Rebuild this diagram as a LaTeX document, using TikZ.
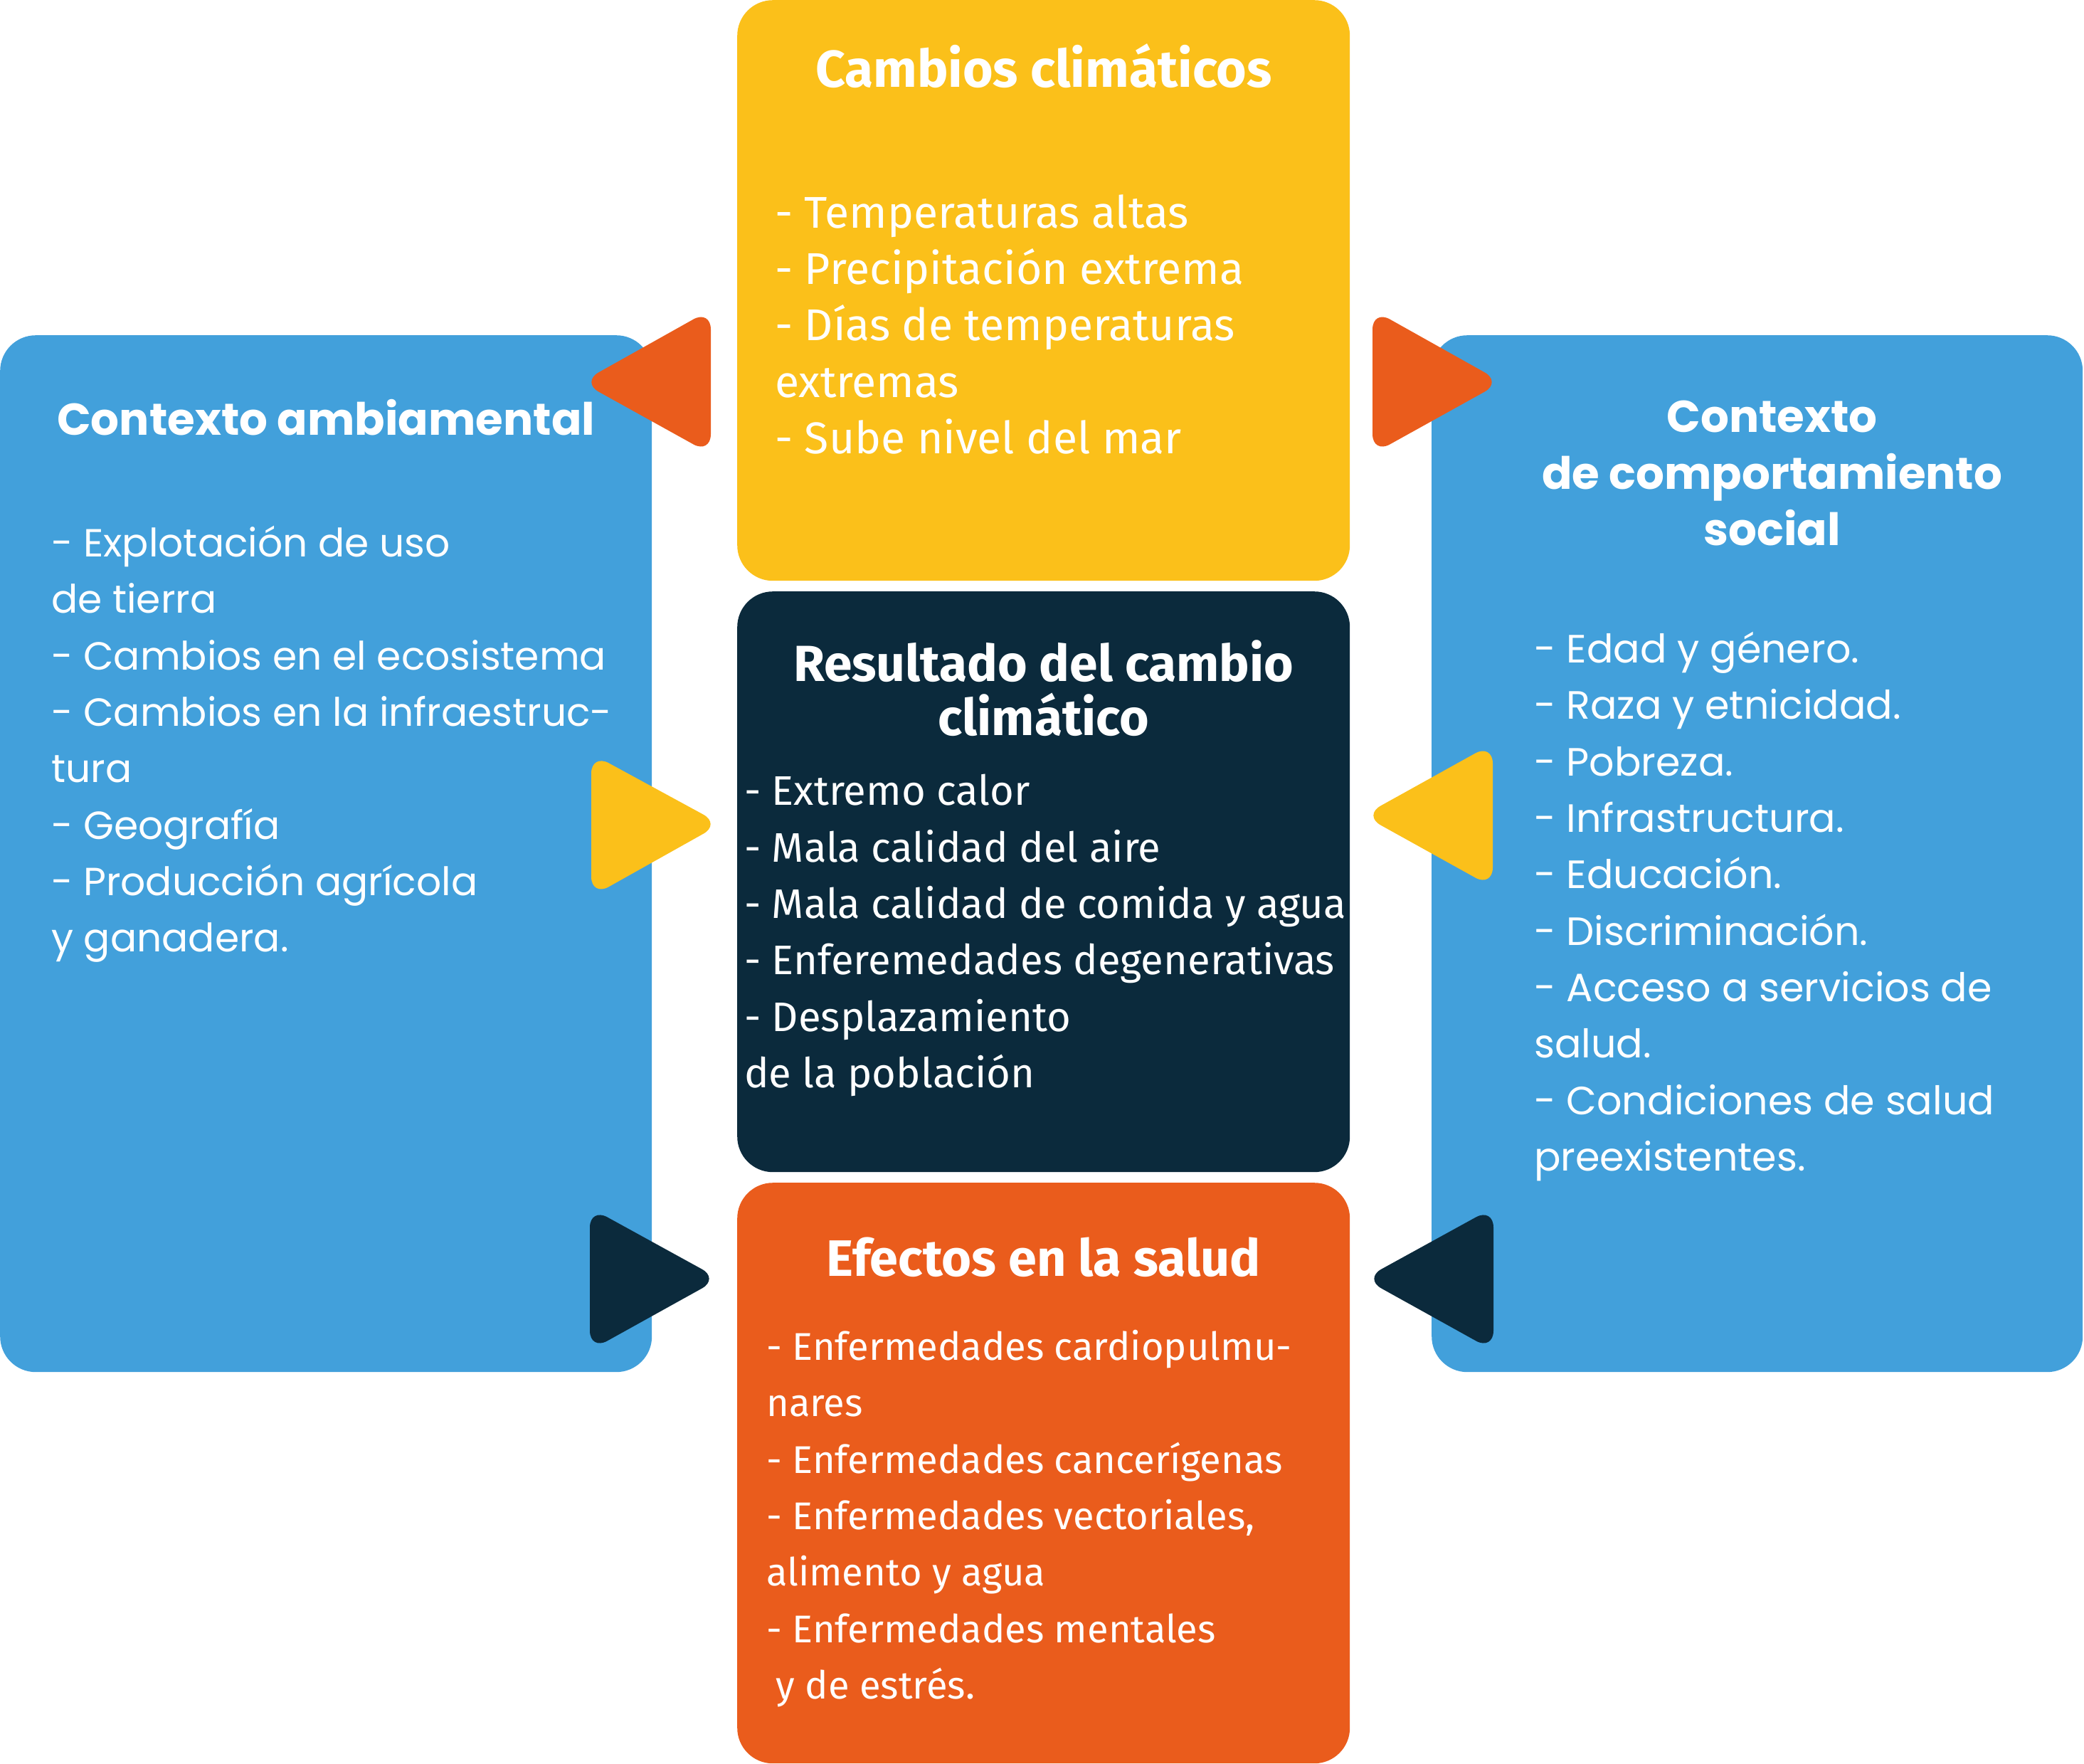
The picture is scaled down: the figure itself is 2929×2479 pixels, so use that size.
\documentclass[tikz,border=0pt]{standalone}
\usepackage{fontspec}
\setmainfont{Fira Sans}
\newfontfamily\geofont{Poppins}
\usepackage{tikz}
\usetikzlibrary{positioning}

\definecolor{cielo}{RGB}{66,160,219}
\definecolor{sol}{RGB}{251,192,26}
\definecolor{noche}{RGB}{11,42,60}
\definecolor{fuego}{RGB}{234,92,28}

\begin{document}
\begin{tikzpicture}[
  x=1pt, y=-1pt,
  title/.style={font=\fontsize{72}{76}\selectfont\bfseries, text=white, align=center, inner sep=0pt},
  geotitle/.style={font=\geofont\fontsize{62.7}{79.5}\selectfont\bfseries, text=white, align=center, inner sep=0pt},
  itemlist/.style={font=\fontsize{58}{79.4}\selectfont, text=white, align=left, inner sep=0pt, execute at begin node=\strut},
  geolist/.style={font=\geofont\fontsize{55.5}{79.3}\selectfont, text=white, align=left, inner sep=0pt, execute at begin node=\strut}
]
	\tikzstyle{panel} = [rectangle, rounded corners=50pt, inner sep=0pt, anchor=north west]
	\tikzstyle{pointer} = [rounded corners=28pt]

	\useasboundingbox (0,0) rectangle (2929,2479);

	% side panels
	\node (ambiental) [panel, fill=cielo, minimum width=916pt, minimum height=1457pt] at (0,471) {};
	\node (social) [panel, fill=cielo, minimum width=915pt, minimum height=1457pt] at (2012,471) {};

	% middle column
	\node (cambios) [panel, fill=sol, minimum width=861pt, minimum height=816pt] at (1036,0) {};
	\node (resultado) [panel, fill=noche, minimum width=861pt, minimum height=816pt] at (1036,831) {};
	\node (efectos) [panel, fill=fuego, minimum width=861pt, minimum height=816pt] at (1036,1662) {};

	% titles
	\node (cambiosTitle) [title, font=\fontsize{73}{76}\selectfont\bfseries, below=122pt of cambios.north, anchor=base] {Cambios climáticos};
	\node (resultadoTitle) [title, font=\fontsize{71.3}{76}\selectfont\bfseries, below=68pt of resultado.north, execute at begin node=\strut] {Resultado del cambio\\climático};
	\node (efectosTitle) [title, below=131pt of efectos.north, anchor=base] {Efectos en la salud};
	\node (ambientalTitle) [geotitle, below=140pt of ambiental.north, anchor=base] {Contexto ambiamental};
	\node (socialTitle) [geotitle, below=92pt of social.north, xshift=21pt, execute at begin node=\strut] {Contexto\\de comportamiento\\social};

	% lists
	\node (cambiosList) [itemlist, font=\fontsize{62.5}{79.4}\selectfont, below right=273pt and 53pt of cambios.north west] {- Temperaturas altas\\- Precipitación extrema\\- Días de temperaturas\\extremas\\- Sube nivel del mar};
	\node (resultadoList) [itemlist, below right=257pt and 10pt of resultado.north west] {- Extremo calor\\- Mala calidad del aire\\- Mala calidad de comida y agua\\- Enferemedades degenerativas\\- Desplazamiento\\de la población};
	\node (efectosList) [itemlist, font=\fontsize{54.3}{79.3}\selectfont, below right=207pt and 41pt of efectos.north west] {- Enfermedades cardiopulmu-\\nares\\- Enfermedades cancerígenas\\- Enfermedades vectoriales,\\alimento y agua\\- Enfermedades mentales\\\hspace*{0.25em}y de estrés.};
	\node (ambientalList) [geolist, font=\geofont\fontsize{55.1}{79.3}\selectfont, below right=268pt and 72pt of ambiental.north west] {- Explotación de uso\\de tierra\\- Cambios en el ecosistema\\- Cambios en la infraestruc-\\tura\\- Geografía\\- Producción agrícola\\y ganadera.};
	\node (socialList) [geolist, below right=417pt and 144pt of social.north west] {- Edad y género.\\- Raza y etnicidad.\\- Pobreza.\\- Infrastructura.\\- Educación.\\- Discriminación.\\- Acceso a servicios de\\salud.\\- Condiciones de salud\\preexistentes.};

	% pointers
	\fill[pointer, fuego] (999,435) -- (817,537) -- (999,638) -- cycle;
	\fill[pointer, fuego] (1929,435) -- (2111,537) -- (1929,638) -- cycle;
	\fill[pointer, sol] (831,1059) -- (1013,1158) -- (831,1260) -- cycle;
	\fill[pointer, sol] (2098,1045) -- (1916,1146) -- (2098,1247) -- cycle;
	\fill[pointer, noche] (829,1697) -- (1011,1797) -- (829,1898) -- cycle;
	\fill[pointer, noche] (2099,1697) -- (1917,1797) -- (2099,1898) -- cycle;

\end{tikzpicture}
\end{document}
